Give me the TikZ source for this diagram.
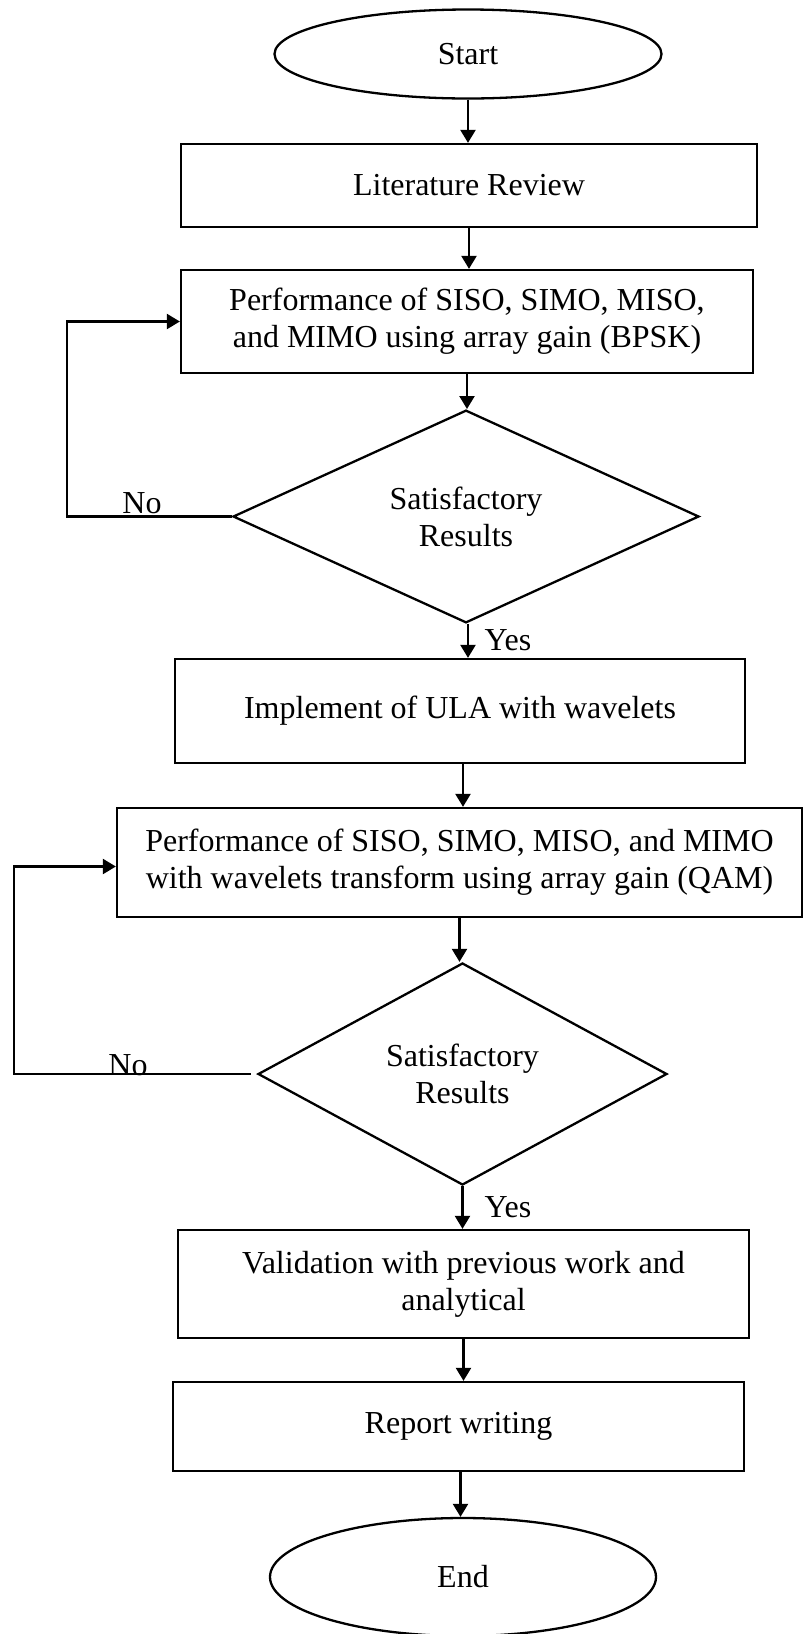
\documentclass[tikz,border=0pt]{standalone}
\usepackage{fontspec}
\setmainfont{Liberation Serif}
\usetikzlibrary{shapes.geometric,arrows.meta}
\begin{document}
\begin{tikzpicture}[x=1pt,y=-1pt,
  every node/.style={font=\fontsize{32}{37}\selectfont},
  arr/.style={line width=2.3pt,-{Triangle[length=13pt,width=15pt]}},
  procbox/.style={draw,line width=2.3pt,rectangle,inner sep=0pt,align=center},
  term/.style={draw,line width=2.3pt,ellipse,inner sep=0pt},
  decision/.style={draw,line width=2.3pt,diamond,inner sep=0pt,align=center},
  lbl/.style={inner sep=0pt}]
\useasboundingbox (0,0) rectangle (803,1634);
\fill[white] (0,0) rectangle (803,1634);
\node[term, minimum width=387pt, minimum height=89pt] (start) at (468,54) {Start};
\node[procbox, minimum width=576pt, minimum height=83pt] (lit) at (469,185.5) {Literature Review};
\node[procbox, minimum width=572pt, minimum height=103pt] (perf1) at (467,321.5) {Performance of SISO, SIMO, MISO,\\and MIMO using array gain (BPSK)};
\node[decision, minimum width=466pt, minimum height=193pt] (dec1) at (466,516.5) {Satisfactory\\Results};
\node[procbox, minimum width=570pt, minimum height=104pt] (impl) at (460,711) {Implement of ULA with wavelets};
\node[procbox, minimum width=685pt, minimum height=109pt] (perf2) at (459.5,862.5) {Performance of SISO, SIMO, MISO, and MIMO\\with wavelets transform using array gain (QAM)};
\node[decision, minimum width=409pt, minimum height=222pt] (dec2) at (462.5,1074) {Satisfactory\\Results};
\node[procbox, minimum width=571pt, minimum height=108pt] (val) at (463.5,1284) {Validation with previous work and\\analytical};
\node[procbox, minimum width=571pt, minimum height=89pt] (rep) at (458.5,1426.5) {Report writing};
\node[term, minimum width=386pt, minimum height=118pt] (end) at (463,1577) {End};

\coordinate (loopA) at (67,0);
\coordinate (loopB) at (14,0);

\draw[arr] (start.south) -- (start.south |- lit.north);
\draw[arr] (lit.south) -- (lit.south |- perf1.north);
\draw[arr] (perf1.south) -- (perf1.south |- dec1.north);
\draw[arr] ([xshift=2pt]dec1.south) -- ([xshift=2pt]dec1.south |- impl.north);
\draw[arr] ([xshift=3pt]impl.south) -- ([xshift=3pt]impl.south |- perf2.north);
\draw[arr] (perf2.south) -- (perf2.south |- dec2.north);
\draw[arr] (dec2.south) -- (dec2.south |- val.north);
\draw[arr] (val.south) -- (val.south |- rep.north);
\draw[arr] ([xshift=2pt]rep.south) -- ([xshift=2pt]rep.south |- end.north);

\draw[arr] (dec1.west) -- (dec1.west -| loopA) |- (perf1.west);
\draw[arr] ([xshift=-6pt]dec2.west) -- (dec2.west -| loopB) |- ([yshift=-4pt]perf2.west);

\node[lbl] (no1) at (142,503) {No};
\node[lbl] (yes1) at (508,640) {Yes};
\node[lbl] (no2) at (128,1065) {No};
\node[lbl] (yes2) at (508,1207) {Yes};
\end{tikzpicture}
\end{document}
